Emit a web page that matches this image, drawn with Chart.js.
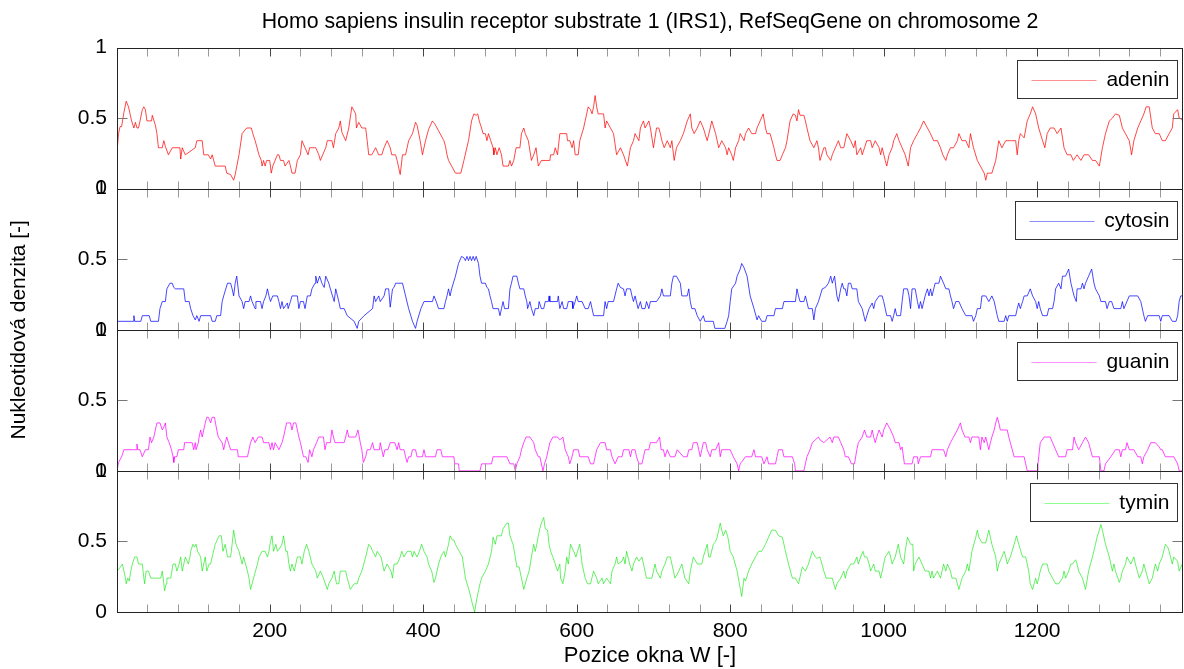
<!DOCTYPE html>
<html>
<head>
<meta charset="utf-8">
<script src="https://cdn.jsdelivr.net/npm/chart.js@4.4.1/dist/chart.umd.min.js"></script>
<style>
html,body{margin:0;padding:0;background:#fff;}
canvas{display:block;}
</style>
</head>
<body>
<canvas id="c" width="1184" height="669"></canvas>
<script>
const chartTitle = 'Homo sapiens insulin receptor substrate 1 (IRS1), RefSeqGene on chromosome 2';
const xTitle = 'Pozice okna W [-]';
const yTitle = 'Nukleotidová denzita [-]';
const seriesNames = ['adenin', 'cytosin', 'guanin', 'tymin'];
const xTickLabels = [200, 400, 600, 800, 1000, 1200];
const yTickLabels = [0, 0.5, 1];
const xRange = [1, 1390];

const adenin = [
[1,0.26],[3,0.39],[5,0.44],[7,0.44],[10,0.54],[13,0.62],[16,0.58],[18,0.53],[20,0.48],[23,0.43],[25,0.47],[27,0.43],[29,0.43],[31,0.48],[34,0.56],[36,0.58],[38,0.56],[40,0.48],[46,0.48],[47,0.52],[51,0.45],[53,0.39],[55,0.29],[60,0.29],[62,0.34],[64,0.30],[68,0.24],[73,0.29],[83,0.29],[84,0.21],[86,0.29],[90,0.24],[103,0.29],[105,0.34],[112,0.34],[114,0.24],[120,0.24],[123,0.21],[125,0.24],[129,0.16],[142,0.16],[144,0.11],[149,0.10],[153,0.06],[155,0.10],[160,0.24],[164,0.39],[170,0.43],[176,0.43],[178,0.39],[181,0.34],[186,0.24],[189,0.20],[190,0.16],[192,0.20],[194,0.16],[196,0.20],[200,0.20],[202,0.11],[204,0.16],[207,0.20],[210,0.24],[212,0.24],[214,0.20],[218,0.20],[220,0.16],[225,0.20],[227,0.16],[229,0.11],[233,0.11],[236,0.20],[240,0.24],[242,0.34],[246,0.29],[250,0.24],[252,0.29],[260,0.29],[264,0.24],[266,0.20],[269,0.24],[273,0.29],[275,0.34],[281,0.34],[283,0.29],[286,0.39],[290,0.43],[292,0.48],[294,0.40],[299,0.34],[303,0.43],[307,0.58],[312,0.53],[313,0.43],[316,0.47],[320,0.43],[325,0.43],[327,0.34],[329,0.24],[333,0.24],[338,0.29],[342,0.24],[346,0.24],[349,0.29],[353,0.34],[357,0.29],[359,0.24],[364,0.24],[366,0.20],[370,0.10],[373,0.24],[377,0.24],[381,0.34],[386,0.39],[390,0.47],[392,0.45],[396,0.34],[399,0.24],[403,0.34],[407,0.42],[412,0.48],[415,0.46],[418,0.43],[422,0.39],[427,0.34],[429,0.30],[431,0.24],[433,0.20],[442,0.11],[449,0.11],[453,0.20],[459,0.34],
[463,0.48],[466,0.53],[469,0.52],[471,0.53],[473,0.48],[476,0.43],[478,0.39],[481,0.39],[483,0.34],[485,0.39],[488,0.34],[491,0.29],[492,0.24],[494,0.29],[496,0.24],[499,0.29],[502,0.24],[504,0.16],[511,0.16],[513,0.20],[515,0.16],[518,0.20],[521,0.29],[526,0.29],[528,0.39],[531,0.43],[533,0.39],[537,0.34],[541,0.20],[544,0.24],[547,0.29],[550,0.16],[554,0.20],[565,0.20],[566,0.24],[570,0.24],[572,0.29],[575,0.24],[578,0.39],[587,0.39],[588,0.34],[591,0.34],[594,0.29],[596,0.34],[598,0.24],[602,0.24],[604,0.34],[609,0.43],[611,0.48],[613,0.53],[615,0.58],[618,0.56],[620,0.53],[622,0.58],[624,0.66],[626,0.58],[628,0.53],[635,0.53],[637,0.43],[639,0.48],[644,0.43],[648,0.39],[652,0.24],[657,0.29],[661,0.24],[666,0.16],[670,0.29],[674,0.34],[676,0.39],[681,0.34],[683,0.43],[687,0.48],[689,0.43],[694,0.48],[696,0.43],[700,0.29],[704,0.43],[707,0.43],[709,0.39],[711,0.34],[714,0.29],[718,0.34],[722,0.29],[724,0.34],[727,0.20],[730,0.29],[735,0.34],[739,0.39],[744,0.48],[748,0.53],[750,0.43],[753,0.39],[757,0.43],[761,0.48],[765,0.43],[770,0.34],[774,0.43],[776,0.48],[781,0.39],[785,0.29],[789,0.34],[794,0.29],[796,0.24],[798,0.29],[802,0.24],[804,0.20],[807,0.29],[811,0.34],[813,0.39],[818,0.34],[820,0.39],[824,0.43],[828,0.39],[833,0.39],[835,0.43],[839,0.48],[843,0.53],[846,0.43],[848,0.39],[852,0.39],[857,0.29],[859,0.24],[861,0.20],[865,0.20],[868,0.24],[872,0.29],[874,0.34],[878,0.48],[882,0.53],[885,0.52],[887,0.48],[889,0.56],[891,0.52],[896,0.52],[898,0.48],[900,0.43],[904,0.34],[909,0.29],[913,0.34],[915,0.29],[917,0.20],[922,0.29],[924,0.29],
[926,0.24],[931,0.20],[933,0.24],[937,0.29],[941,0.34],[944,0.29],[948,0.29],[950,0.34],[952,0.39],[957,0.34],[961,0.29],[963,0.34],[965,0.24],[970,0.29],[972,0.24],[975,0.29],[978,0.34],[983,0.34],[985,0.29],[989,0.34],[994,0.29],[996,0.24],[998,0.29],[1002,0.20],[1004,0.16],[1007,0.24],[1011,0.29],[1013,0.34],[1017,0.39],[1020,0.34],[1024,0.29],[1028,0.24],[1032,0.16],[1035,0.29],[1039,0.34],[1044,0.39],[1048,0.43],[1052,0.48],[1057,0.43],[1061,0.39],[1065,0.34],[1070,0.34],[1074,0.29],[1077,0.24],[1081,0.20],[1083,0.24],[1087,0.29],[1091,0.29],[1096,0.34],[1098,0.39],[1102,0.34],[1107,0.34],[1111,0.29],[1113,0.39],[1115,0.34],[1117,0.29],[1122,0.20],[1126,0.16],[1131,0.11],[1133,0.06],[1135,0.11],[1141,0.11],[1146,0.20],[1150,0.34],[1154,0.29],[1159,0.34],[1165,0.34],[1172,0.34],[1174,0.24],[1176,0.34],[1178,0.39],[1183,0.36],[1187,0.48],[1191,0.53],[1194,0.58],[1198,0.53],[1202,0.43],[1207,0.34],[1210,0.29],[1213,0.39],[1217,0.43],[1222,0.43],[1226,0.39],[1231,0.43],[1235,0.29],[1239,0.24],[1244,0.24],[1247,0.20],[1252,0.24],[1257,0.20],[1261,0.24],[1267,0.24],[1272,0.20],[1276,0.20],[1281,0.16],[1285,0.29],[1289,0.39],[1294,0.48],[1298,0.50],[1302,0.53],[1307,0.52],[1311,0.43],[1315,0.39],[1320,0.34],[1323,0.24],[1326,0.34],[1331,0.43],[1335,0.48],[1339,0.53],[1342,0.58],[1346,0.58],[1350,0.43],[1354,0.39],[1359,0.39],[1363,0.34],[1367,0.34],[1372,0.39],[1376,0.43],[1378,0.53],[1383,0.56],[1385,0.50],[1389,0.49],[1390,0.44]
];

const cytosin = [
[1,0.06],[22,0.06],[23,0.10],[24,0.06],[32,0.06],[34,0.10],[43,0.10],[45,0.06],[55,0.06],[57,0.15],[60,0.20],[64,0.20],[66,0.29],[70,0.33],[73,0.33],[75,0.30],[77,0.29],[88,0.29],[90,0.20],[95,0.20],[97,0.15],[100,0.10],[103,0.07],[105,0.10],[108,0.06],[110,0.10],[123,0.10],[125,0.06],[129,0.06],[131,0.10],[136,0.10],[138,0.20],[140,0.24],[145,0.33],[149,0.33],[151,0.29],[153,0.24],[155,0.33],[157,0.38],[160,0.24],[164,0.20],[166,0.15],[168,0.20],[173,0.20],[175,0.24],[177,0.20],[181,0.15],[182,0.20],[188,0.20],[190,0.15],[192,0.20],[195,0.24],[197,0.29],[199,0.24],[201,0.20],[204,0.24],[210,0.24],[212,0.20],[214,0.15],[216,0.20],[218,0.15],[223,0.19],[224,0.15],[227,0.20],[229,0.24],[236,0.24],[238,0.15],[240,0.20],[244,0.20],[246,0.15],[249,0.24],[253,0.24],[255,0.29],[259,0.33],[260,0.38],[262,0.33],[265,0.38],[268,0.33],[271,0.30],[273,0.38],[277,0.33],[279,0.29],[284,0.20],[286,0.29],[290,0.20],[292,0.15],[297,0.15],[301,0.10],[310,0.06],[314,0.01],[316,0.06],[323,0.10],[334,0.15],[336,0.24],[338,0.20],[342,0.24],[344,0.20],[349,0.24],[351,0.29],[355,0.29],[357,0.16],[360,0.29],[362,0.30],[364,0.33],[373,0.33],[377,0.24],[381,0.15],[386,0.06],[390,0.01],[392,0.06],[397,0.15],[401,0.20],[412,0.20],[414,0.24],[417,0.20],[420,0.15],[427,0.15],[429,0.20],[431,0.24],[433,0.29],[435,0.24],[437,0.29],[442,0.38],[446,0.47],[450,0.52],
[453,0.51],[455,0.49],[457,0.52],[459,0.49],[461,0.52],[463,0.49],[465,0.52],[467,0.49],[469,0.52],[472,0.47],[474,0.38],[476,0.33],[481,0.33],[483,0.30],[485,0.29],[487,0.24],[489,0.20],[491,0.15],[498,0.15],[500,0.10],[502,0.15],[504,0.20],[506,0.15],[511,0.15],[513,0.29],[515,0.33],[517,0.38],[522,0.38],[524,0.33],[526,0.29],[531,0.29],[533,0.24],[535,0.20],[536,0.15],[539,0.20],[541,0.15],[544,0.10],[546,0.15],[550,0.15],[551,0.20],[554,0.15],[557,0.15],[559,0.20],[563,0.20],[564,0.24],[565,0.20],[575,0.20],[576,0.24],[578,0.15],[581,0.20],[583,0.15],[587,0.15],[589,0.20],[594,0.20],[595,0.15],[598,0.20],[600,0.24],[602,0.20],[607,0.20],[611,0.15],[615,0.15],[618,0.20],[622,0.10],[635,0.10],[637,0.20],[639,0.15],[641,0.20],[648,0.20],[652,0.29],[654,0.33],[657,0.30],[661,0.29],[663,0.24],[665,0.29],[670,0.29],[672,0.24],[674,0.20],[676,0.24],[680,0.15],[683,0.20],[685,0.15],[689,0.15],[691,0.20],[694,0.15],[696,0.20],[704,0.20],[709,0.24],[711,0.29],[713,0.24],[722,0.24],[724,0.33],[726,0.38],[730,0.38],[735,0.33],[737,0.24],[744,0.24],[746,0.29],[748,0.20],[750,0.15],[754,0.15],[757,0.10],[761,0.06],[765,0.10],[767,0.06],[778,0.06],[780,0.01],[793,0.01],[796,0.06],[798,0.10],[800,0.20],[802,0.29],[807,0.33],[809,0.38],[813,0.43],[815,0.47],[818,0.44],[822,0.38],[826,0.24],[831,0.15],[835,0.07],[837,0.10],[841,0.06],[846,0.06],[848,0.10],[857,0.10],[859,0.15],[868,0.15],[870,0.20],[885,0.20],[887,0.29],[889,0.24],[891,0.20],[896,0.20],[898,0.24],[902,0.15],[907,0.15],[909,0.07],[911,0.15],[915,0.20],[920,0.29],[924,0.30],
[928,0.33],[931,0.38],[933,0.33],[936,0.38],[939,0.24],[941,0.20],[944,0.29],[946,0.33],[948,0.29],[950,0.29],[952,0.24],[954,0.33],[957,0.33],[959,0.29],[965,0.29],[967,0.20],[972,0.15],[976,0.06],[978,0.10],[981,0.15],[985,0.19],[987,0.15],[989,0.20],[994,0.24],[998,0.24],[1000,0.20],[1002,0.15],[1004,0.10],[1009,0.10],[1011,0.06],[1013,0.10],[1015,0.15],[1017,0.10],[1022,0.10],[1024,0.20],[1026,0.29],[1031,0.29],[1033,0.24],[1035,0.15],[1037,0.29],[1041,0.29],[1044,0.20],[1046,0.15],[1048,0.20],[1050,0.15],[1054,0.24],[1057,0.29],[1059,0.24],[1061,0.29],[1063,0.24],[1067,0.33],[1072,0.33],[1074,0.38],[1078,0.33],[1081,0.29],[1085,0.29],[1087,0.24],[1089,0.20],[1091,0.15],[1094,0.20],[1098,0.20],[1102,0.15],[1107,0.10],[1115,0.10],[1117,0.06],[1120,0.10],[1122,0.15],[1126,0.15],[1128,0.24],[1133,0.24],[1137,0.20],[1141,0.24],[1144,0.20],[1146,0.15],[1148,0.10],[1150,0.06],[1157,0.06],[1159,0.10],[1161,0.06],[1163,0.10],[1172,0.10],[1174,0.15],[1176,0.19],[1178,0.15],[1181,0.20],[1183,0.24],[1187,0.24],[1191,0.29],[1194,0.24],[1198,0.20],[1200,0.15],[1202,0.20],[1204,0.15],[1207,0.10],[1213,0.10],[1215,0.15],[1220,0.15],[1222,0.20],[1224,0.29],[1228,0.33],[1231,0.29],[1233,0.38],[1237,0.38],[1241,0.43],[1244,0.33],[1248,0.24],[1251,0.20],[1252,0.29],[1257,0.29],[1259,0.33],[1261,0.29],[1263,0.33],[1267,0.38],[1271,0.43],[1274,0.33],[1276,0.29],[1281,0.24],[1283,0.20],[1289,0.20],[1291,0.15],[1294,0.20],[1297,0.20],[1300,0.15],[1309,0.15],[1311,0.20],[1313,0.15],[1320,0.24],[1331,0.24],[1335,0.20],[1339,0.10],[1341,0.06],[1344,0.10],[1359,0.10],[1361,0.06],[1363,0.10],[1372,0.10],[1376,0.06],[1381,0.06],[1383,0.10],[1385,0.20],[1387,0.24],[1390,0.24]
];

const guanin = [
[1,0.0],[3,0.06],[7,0.10],[10,0.15],[26,0.15],[27,0.19],[28,0.15],[31,0.15],[34,0.10],[38,0.15],[42,0.15],[44,0.24],[46,0.20],[49,0.24],[51,0.29],[53,0.34],[57,0.34],[60,0.29],[62,0.31],[64,0.34],[66,0.24],[69,0.20],[72,0.15],[74,0.10],[75,0.06],[76,0.10],[79,0.10],[81,0.15],[88,0.15],[89,0.20],[99,0.20],[101,0.15],[103,0.20],[104,0.15],[107,0.20],[108,0.24],[110,0.29],[112,0.24],[114,0.29],[116,0.34],[118,0.38],[120,0.38],[123,0.34],[125,0.38],[128,0.38],[131,0.29],[133,0.24],[138,0.20],[140,0.15],[142,0.20],[144,0.24],[149,0.15],[158,0.15],[159,0.10],[171,0.10],[175,0.20],[178,0.24],[181,0.20],[185,0.24],[190,0.24],[192,0.20],[199,0.20],[201,0.15],[203,0.20],[205,0.15],[207,0.20],[212,0.15],[216,0.20],[218,0.24],[220,0.29],[222,0.34],[227,0.34],[229,0.29],[231,0.34],[234,0.34],[236,0.29],[238,0.24],[240,0.20],[242,0.15],[244,0.10],[247,0.10],[250,0.06],[252,0.15],[255,0.10],[257,0.15],[261,0.20],[264,0.24],[270,0.24],[272,0.15],[274,0.20],[279,0.20],[281,0.29],[283,0.24],[285,0.20],[297,0.20],[299,0.24],[301,0.29],[303,0.24],[312,0.24],[315,0.29],[318,0.20],[320,0.15],[322,0.06],[325,0.10],[327,0.15],[331,0.15],[334,0.20],[336,0.15],[343,0.15],[344,0.20],[346,0.15],[348,0.10],[350,0.15],[354,0.15],[357,0.20],[363,0.20],[366,0.15],[368,0.20],[370,0.15],[375,0.15],[377,0.10],[379,0.06],[381,0.10],[384,0.10],[386,0.15],[390,0.15],[392,0.10],[399,0.10],[401,0.15],[403,0.10],[416,0.10],[418,0.15],[423,0.15],[425,0.10],[440,0.10],[441,0.05],[446,0.05],[447,0.0],
[474,0.0],[476,0.05],[489,0.05],[491,0.10],[509,0.10],[513,0.05],[518,0.05],[520,0.0],[522,0.05],[526,0.10],[528,0.15],[531,0.20],[534,0.24],[539,0.24],[544,0.20],[546,0.15],[550,0.10],[552,0.10],[556,0.0],[558,0.05],[561,0.10],[565,0.20],[569,0.24],[575,0.24],[578,0.22],[582,0.24],[585,0.15],[589,0.10],[591,0.05],[594,0.10],[596,0.15],[602,0.15],[604,0.10],[615,0.10],[618,0.05],[622,0.05],[626,0.15],[631,0.20],[637,0.20],[639,0.15],[644,0.15],[646,0.10],[650,0.05],[654,0.10],[659,0.10],[661,0.15],[668,0.15],[670,0.10],[672,0.15],[676,0.15],[678,0.10],[681,0.05],[685,0.05],[687,0.10],[689,0.15],[694,0.15],[696,0.20],[704,0.20],[708,0.24],[710,0.15],[713,0.15],[715,0.10],[718,0.15],[722,0.10],[728,0.10],[731,0.15],[739,0.10],[744,0.10],[746,0.15],[750,0.15],[752,0.20],[757,0.20],[759,0.15],[761,0.10],[763,0.15],[765,0.20],[768,0.20],[770,0.15],[774,0.10],[776,0.15],[781,0.15],[785,0.20],[787,0.10],[789,0.15],[800,0.15],[804,0.10],[809,0.05],[811,0.0],[813,0.05],[820,0.10],[828,0.10],[831,0.15],[833,0.10],[841,0.10],[844,0.05],[848,0.10],[850,0.05],[859,0.05],[861,0.10],[863,0.15],[868,0.15],[870,0.10],[881,0.10],[884,0.05],[885,0.0],[896,0.0],[898,0.05],[900,0.10],[904,0.15],[907,0.20],[915,0.24],[917,0.22],[922,0.20],[926,0.22],[930,0.24],
[933,0.20],[935,0.24],[941,0.24],[944,0.20],[948,0.15],[950,0.10],[954,0.10],[958,0.05],[962,0.05],[965,0.15],[967,0.20],[972,0.24],[975,0.29],[978,0.24],[983,0.24],[985,0.29],[987,0.24],[989,0.20],[991,0.24],[994,0.29],[998,0.24],[1000,0.29],[1004,0.34],[1009,0.29],[1013,0.24],[1015,0.20],[1020,0.20],[1022,0.15],[1024,0.17],[1027,0.05],[1037,0.05],[1039,0.10],[1044,0.10],[1045,0.05],[1048,0.10],[1061,0.10],[1063,0.15],[1078,0.15],[1081,0.10],[1083,0.15],[1087,0.20],[1091,0.24],[1096,0.29],[1100,0.34],[1102,0.29],[1106,0.24],[1111,0.24],[1113,0.20],[1115,0.24],[1124,0.24],[1126,0.15],[1128,0.24],[1131,0.20],[1133,0.24],[1137,0.15],[1139,0.20],[1141,0.24],[1144,0.29],[1146,0.34],[1148,0.38],[1150,0.34],[1152,0.29],[1161,0.29],[1163,0.24],[1165,0.20],[1170,0.10],[1183,0.10],[1185,0.05],[1187,0.0],[1200,0.0],[1201,0.05],[1202,0.10],[1204,0.20],[1209,0.24],[1217,0.24],[1220,0.20],[1224,0.15],[1228,0.10],[1237,0.10],[1239,0.15],[1246,0.15],[1248,0.24],[1250,0.20],[1254,0.15],[1259,0.20],[1263,0.24],[1267,0.20],[1272,0.10],[1281,0.10],[1283,0.0],[1287,0.0],[1289,0.05],[1296,0.10],[1302,0.15],[1307,0.15],[1309,0.10],[1311,0.15],[1315,0.15],[1317,0.20],[1320,0.15],[1326,0.15],[1331,0.10],[1335,0.10],[1337,0.05],[1339,0.10],[1344,0.15],[1348,0.20],[1354,0.20],[1359,0.17],[1361,0.15],[1363,0.15],[1367,0.10],[1378,0.10],[1383,0.05],[1385,0.0],[1390,0.0]
];

const tymin = [
[1,0.29],[3,0.30],[8,0.34],[10,0.29],[12,0.24],[13,0.20],[15,0.24],[17,0.22],[19,0.29],[21,0.34],[24,0.39],[27,0.39],[29,0.34],[34,0.34],[36,0.24],[37,0.20],[39,0.29],[42,0.29],[45,0.24],[58,0.24],[60,0.29],[62,0.20],[63,0.15],[65,0.20],[66,0.24],[71,0.24],[74,0.34],[77,0.34],[79,0.29],[82,0.34],[84,0.39],[86,0.29],[88,0.34],[90,0.39],[94,0.34],[96,0.39],[97,0.43],[100,0.48],[102,0.46],[104,0.48],[106,0.43],[110,0.39],[112,0.29],[114,0.34],[116,0.39],[118,0.29],[121,0.34],[123,0.34],[125,0.39],[129,0.48],[134,0.54],[137,0.54],[139,0.43],[142,0.48],[145,0.39],[149,0.39],[151,0.48],[153,0.58],[156,0.48],[160,0.43],[164,0.34],[166,0.39],[171,0.29],[173,0.24],[175,0.16],[177,0.20],[179,0.24],[184,0.34],[186,0.39],[190,0.43],[194,0.43],[197,0.39],[199,0.43],[201,0.50],[203,0.54],[205,0.43],[208,0.48],[210,0.43],[214,0.46],[216,0.48],[218,0.54],[221,0.43],[223,0.43],[225,0.34],[227,0.29],[229,0.34],[232,0.29],[234,0.34],[236,0.39],[240,0.39],[242,0.34],[245,0.43],[248,0.48],[251,0.43],[255,0.34],[260,0.29],[262,0.24],[266,0.29],[270,0.24],[275,0.16],[277,0.20],[281,0.24],[284,0.29],[287,0.20],[290,0.20],[292,0.29],[299,0.29],[301,0.24],[303,0.20],[305,0.16],[310,0.20],[314,0.20],[316,0.24],[320,0.29],[325,0.39],[329,0.48],[332,0.46],[334,0.43],[338,0.39],[340,0.43],[345,0.39],[347,0.34],[349,0.29],[353,0.34],[358,0.29],[360,0.24],[362,0.34],[366,0.34],[370,0.39],[372,0.43],[375,0.39],[379,0.43],[384,0.43],[386,0.39],[388,0.43],[392,0.39],[395,0.43],[398,0.48],[401,0.43],[405,0.39],[407,0.34],[411,0.29],[414,0.21],[416,0.24],[418,0.29],[420,0.34],[423,0.39],[427,0.43],[429,0.39],[433,0.48],[435,0.54],[438,0.51],[440,0.51],[442,0.48],[447,0.43],[451,0.39],[455,0.24],[460,0.15],[464,0.06],[467,0.0],
[470,0.10],[474,0.20],[476,0.24],[481,0.29],[485,0.34],[489,0.43],[491,0.53],[494,0.48],[496,0.54],[502,0.54],[504,0.59],[509,0.63],[511,0.63],[513,0.54],[517,0.48],[520,0.39],[522,0.32],[525,0.32],[528,0.24],[531,0.16],[535,0.24],[538,0.29],[541,0.39],[544,0.48],[546,0.43],[548,0.48],[550,0.54],[552,0.59],[554,0.63],[557,0.67],[559,0.59],[562,0.58],[564,0.48],[566,0.43],[569,0.39],[572,0.34],[575,0.29],[578,0.34],[579,0.24],[582,0.20],[585,0.29],[587,0.39],[589,0.34],[592,0.48],[596,0.43],[599,0.39],[601,0.43],[604,0.48],[607,0.34],[611,0.24],[614,0.20],[618,0.20],[622,0.29],[626,0.24],[628,0.20],[633,0.24],[635,0.20],[639,0.24],[644,0.20],[646,0.29],[650,0.34],[652,0.39],[654,0.34],[659,0.36],[661,0.39],[663,0.34],[665,0.43],[669,0.34],[672,0.29],[674,0.34],[678,0.39],[681,0.36],[685,0.39],[687,0.34],[689,0.29],[691,0.24],[698,0.24],[700,0.29],[702,0.34],[704,0.29],[709,0.24],[711,0.29],[715,0.34],[718,0.39],[722,0.39],[724,0.34],[726,0.29],[728,0.24],[733,0.29],[737,0.34],[741,0.24],[746,0.20],[748,0.29],[752,0.39],[757,0.34],[763,0.34],[765,0.39],[770,0.48],[772,0.39],[774,0.39],[778,0.48],[781,0.50],[783,0.53],[787,0.63],[789,0.58],[791,0.54],[794,0.58],[797,0.53],[800,0.43],[804,0.39],[809,0.29],[812,0.20],[815,0.11],[818,0.24],[820,0.22],[824,0.29],[828,0.34],[833,0.39],[837,0.43],[841,0.43],[846,0.48],[850,0.53],[854,0.58],[859,0.58],[863,0.54],[868,0.53],[872,0.43],[876,0.34],[881,0.24],[885,0.24],[889,0.20],[894,0.32],[898,0.29],[902,0.34],[907,0.43],[911,0.39],[913,0.38],[917,0.39],[922,0.29],[925,0.24],[930,0.24],
[933,0.24],[935,0.20],[937,0.16],[939,0.20],[944,0.24],[948,0.29],[950,0.24],[952,0.29],[957,0.34],[961,0.34],[965,0.39],[967,0.34],[970,0.39],[973,0.43],[975,0.39],[978,0.39],[981,0.34],[983,0.29],[987,0.34],[989,0.29],[994,0.29],[996,0.24],[998,0.29],[1000,0.34],[1002,0.39],[1007,0.43],[1009,0.39],[1011,0.34],[1015,0.39],[1019,0.48],[1022,0.39],[1026,0.34],[1028,0.43],[1031,0.53],[1035,0.48],[1038,0.48],[1039,0.29],[1041,0.34],[1046,0.39],[1050,0.34],[1054,0.29],[1059,0.29],[1061,0.24],[1063,0.29],[1065,0.24],[1070,0.29],[1074,0.24],[1076,0.29],[1078,0.34],[1081,0.29],[1083,0.34],[1087,0.29],[1089,0.24],[1094,0.24],[1096,0.20],[1098,0.16],[1100,0.20],[1102,0.24],[1107,0.29],[1109,0.34],[1111,0.29],[1115,0.43],[1120,0.53],[1122,0.58],[1124,0.53],[1128,0.49],[1133,0.49],[1137,0.58],[1139,0.53],[1141,0.48],[1146,0.39],[1148,0.29],[1150,0.34],[1154,0.39],[1157,0.43],[1159,0.39],[1161,0.34],[1165,0.39],[1170,0.48],[1173,0.54],[1176,0.48],[1181,0.39],[1185,0.39],[1189,0.29],[1191,0.20],[1194,0.16],[1196,0.20],[1198,0.24],[1200,0.20],[1202,0.24],[1204,0.29],[1207,0.34],[1213,0.34],[1215,0.29],[1220,0.24],[1224,0.20],[1228,0.20],[1233,0.24],[1235,0.29],[1237,0.24],[1241,0.29],[1244,0.34],[1246,0.34],[1250,0.37],[1252,0.34],[1254,0.29],[1259,0.24],[1261,0.20],[1263,0.16],[1267,0.29],[1272,0.39],[1276,0.48],[1278,0.53],[1281,0.58],[1283,0.62],[1285,0.58],[1289,0.48],[1294,0.39],[1296,0.34],[1298,0.29],[1300,0.34],[1302,0.29],[1307,0.21],[1309,0.24],[1311,0.29],[1315,0.34],[1317,0.39],[1322,0.34],[1326,0.39],[1328,0.34],[1333,0.24],[1337,0.29],[1339,0.34],[1344,0.24],[1346,0.20],[1350,0.24],[1352,0.29],[1354,0.34],[1357,0.29],[1359,0.34],[1363,0.39],[1367,0.48],[1370,0.46],[1372,0.43],[1376,0.34],[1378,0.39],[1383,0.36],[1385,0.29],[1389,0.34],[1390,0.34]
];

const seriesData = [adenin, cytosin, guanin, tymin];
const lineColors = ['rgba(255,0,0,0.72)', 'rgba(0,0,255,0.72)', 'rgba(255,0,255,0.72)', 'rgba(0,230,0,0.6)'];
const legendColors = ['#ff9090', '#8c8cff', '#ff90ff', '#90ff90'];
const axisIds = ['yA', 'yC', 'yG', 'yT'];

const FONT = '"Liberation Sans", Arial, Helvetica, sans-serif';
const FS = 21;

const scales = {
  x: {
    type: 'linear', position: 'bottom', min: xRange[0], max: xRange[1],
    grid: {display: false, drawTicks: false}, border: {display: false},
    afterBuildTicks: s => { s.ticks = xTickLabels.map(v => ({value: v})); },
    afterFit: s => { s.height = 57; },
    ticks: {color: '#000', font: {family: FONT, size: FS}, padding: 7, maxRotation: 0, autoSkip: false,
      callback: v => String(v)},
    title: {display: true, text: xTitle, color: '#000', font: {family: FONT, size: FS + 1}, padding: {top: 0, bottom: 0}}
  }
};
axisIds.forEach((id, i) => {
  scales[id] = {
    type: 'linear', position: 'left', stack: 'panels', stackWeight: 1, weight: 4 - i,
    min: 0, max: 1,
    grid: {display: false, drawTicks: false}, border: {display: false},
    afterBuildTicks: s => { s.ticks = yTickLabels.map(v => ({value: v})); },
    afterFit: s => { s.width = 117; },
    ticks: {color: '#000', font: {family: FONT, size: FS}, padding: 10, callback: v => String(v)}
  };
});

const panelPlugin = {
  id: 'panelFrames',
  afterDatasetsDraw(chart) {
    const ctx = chart.ctx;
    const xs = chart.scales.x;
    const L = Math.round(chart.chartArea.left) + 0.5;
    const R = Math.round(chart.chartArea.right) - 0.5;
    ctx.save();
    ctx.lineWidth = 1;
    axisIds.forEach((id, i) => {
      const s = chart.scales[id];
      const T = Math.round(s.top) + 0.5;
      const B = Math.round(s.bottom) + 0.5;
      for (let v = 40; v < xRange[1]; v += 40) {
        const px = Math.round(xs.getPixelForValue(v)) + 0.5;
        ctx.strokeStyle = (v % 200 === 0) ? '#444' : '#999';
        ctx.beginPath();
        ctx.moveTo(px, T); ctx.lineTo(px, T + 8);
        ctx.moveTo(px, B); ctx.lineTo(px, B - 8);
        ctx.stroke();
      }
      const py = Math.round(s.getPixelForValue(0.5)) + 0.5;
      ctx.strokeStyle = '#777';
      ctx.beginPath();
      ctx.moveTo(L, py); ctx.lineTo(L + 10, py);
      ctx.moveTo(R, py); ctx.lineTo(R - 10, py);
      ctx.stroke();
      ctx.strokeStyle = '#222';
      ctx.strokeRect(L, T, R - L, B - T);

      // legend box
      ctx.font = FS + 'px ' + FONT;
      const tw = ctx.measureText(seriesNames[i]).width;
      const bw = Math.round(tw + 97);
      const bh = 38;
      const bx = Math.round(chart.chartArea.right) - 6 - bw + 0.5;
      const by = Math.round(s.top) + 12 + 0.5;
      ctx.fillStyle = '#fff';
      ctx.fillRect(bx, by, bw, bh);
      ctx.strokeStyle = '#333';
      ctx.strokeRect(bx, by, bw, bh);
      const cy = by + bh / 2;
      ctx.strokeStyle = legendColors[i];
      ctx.beginPath();
      ctx.moveTo(bx + 14, Math.round(cy) + 0.5); ctx.lineTo(bx + 79, Math.round(cy) + 0.5);
      ctx.stroke();
      ctx.fillStyle = '#000';
      ctx.textAlign = 'right';
      ctx.textBaseline = 'middle';
      ctx.fillText(seriesNames[i], bx + bw - 8, cy + 1);
    });
    ctx.restore();
  },
  afterDraw(chart) {
    const ctx = chart.ctx;
    const top = chart.scales[axisIds[0]].top;
    const bottom = chart.scales[axisIds[3]].bottom;
    ctx.save();
    ctx.translate(19, (top + bottom) / 2);
    ctx.rotate(-Math.PI / 2);
    ctx.font = FS + 'px ' + FONT;
    ctx.fillStyle = '#000';
    ctx.textAlign = 'center';
    ctx.textBaseline = 'middle';
    ctx.fillText(yTitle, 0, 0);
    ctx.restore();
  }
};

new Chart(document.getElementById('c'), {
  type: 'line',
  data: {
    datasets: seriesData.map((d, i) => ({
      label: seriesNames[i],
      data: d.map(p => ({x: p[0], y: p[1]})),
      yAxisID: axisIds[i],
      borderColor: lineColors[i],
      borderWidth: 1,
      pointRadius: 0,
      tension: 0,
      fill: false
    }))
  },
  options: {
    responsive: false,
    animation: false,
    devicePixelRatio: 1,
    layout: {padding: {left: 0, right: 1, top: 0, bottom: 0}},
    scales: scales,
    plugins: {
      legend: {display: false},
      tooltip: {enabled: false},
      title: {display: true, fullSize: false, text: chartTitle, color: '#000',
        font: {family: FONT, size: FS + 0.3, weight: 'normal'}, padding: {top: 9, bottom: 13}}
    }
  },
  plugins: [panelPlugin]
});
</script>
</body>
</html>
